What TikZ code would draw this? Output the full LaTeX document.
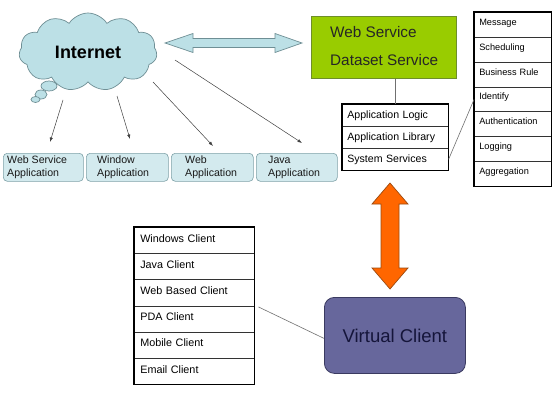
\documentclass[tikz,border=0pt]{standalone}
\usepackage{fontspec}
\setmainfont{Liberation Sans}
\usetikzlibrary{shapes.symbols,arrows.meta,calc}
\definecolor{cloudfill}{HTML}{BCE0E6}
\definecolor{cloudline}{HTML}{6F8F95}
\definecolor{appfill}{HTML}{D3EAEE}
\definecolor{appline}{HTML}{7FA2A8}
\definecolor{greenfill}{HTML}{99CC00}
\definecolor{greenline}{HTML}{6E8E2A}
\definecolor{orangefill}{HTML}{FF6600}
\definecolor{orangeline}{HTML}{9A4A10}
\definecolor{vcfill}{HTML}{67679C}
\definecolor{vcline}{HTML}{3A3A60}
\definecolor{vctext}{HTML}{15153A}
\definecolor{linkgray}{HTML}{707070}
\begin{document}
\begin{tikzpicture}[x=1pt,y=-1pt,
  arr/.style={draw=black!75, line width=0.5pt, -{Latex[length=4.5pt,width=3.2pt]}},
  link/.style={draw=linkgray, line width=0.6pt},
  appbox/.style={draw=appline, fill=appfill, rounded corners=4pt, line width=0.6pt,
     minimum width=80pt, minimum height=28pt, anchor=north west, inner sep=0pt},
  apptext/.style={anchor=west, align=left, inner sep=0pt, font=\fontsize{10.6}{12.6}\selectfont, text=black!90},
  rrow/.style={draw=black!80, line width=0.6pt, anchor=north west, minimum width=77pt,
     inner xsep=5pt, inner ysep=0pt, text height=13pt, text depth=11.86pt, text width=67pt,
     align=left, font=\fontsize{9.2}{10}\selectfont},
  lrow/.style={draw=black!80, line width=0.6pt, anchor=north west, minimum width=106pt,
     inner xsep=5pt, inner ysep=0pt, text height=14.5pt, text depth=7.5pt, text width=96pt,
     align=left, font=\fontsize{10.6}{12}\selectfont},
  crow/.style={draw=black!80, line width=0.6pt, anchor=north west, minimum width=120pt,
     inner xsep=6pt, inner ysep=0pt, text height=15pt, text depth=11.17pt, text width=108pt,
     align=left, font=\fontsize{10.8}{12}\selectfont},
  frame/.style={draw=black, line width=1.2pt}
]
\useasboundingbox[fill=white] (0,0) rectangle (560,420);

% ---- Cloud ----
\node[cloud, cloud puffs=11, cloud puff arc=115, aspect=1.75, draw=cloudline, fill=cloudfill,
      line width=0.7pt, minimum width=138pt, minimum height=78pt, inner sep=0pt,
      font=\fontsize{18}{20}\selectfont\bfseries] (cloud) at (88,52) {Internet};
\draw[draw=cloudline, fill=cloudfill, line width=0.7pt] (49,86) ellipse [x radius=8pt, y radius=5pt];
\draw[draw=cloudline, fill=cloudfill, line width=0.7pt] (41,94.5) ellipse [x radius=6pt, y radius=4.5pt];
\draw[draw=cloudline, fill=cloudfill, line width=0.7pt] (35.5,99.5) ellipse [x radius=4.5pt, y radius=3pt];

% ---- Blue double arrow ----
\coordinate (bl) at (165,43);
\coordinate (br) at (302,43);
\draw[draw=cloudline, fill=cloudfill, line width=0.7pt]
  (bl) -- (193,33.5) -- (193,38.5) -- (275,38.5) -- (275,33.5) -- (br)
  -- (275,52.5) -- (275,47.5) -- (193,47.5) -- (193,52.5) -- cycle;

% ---- Application boxes ----
\node[appbox, minimum width=80pt] (a1) at (3,153) {};
\node[appbox, minimum width=82pt] (a2) at (86,153) {};
\node[appbox, minimum width=82pt] (a3) at (171,153) {};
\node[appbox, minimum width=81pt] (a4) at (256,153) {};
\node[apptext] (t1) at ($(a1.west)+(4,0)$) {Web Service\\Application};
\node[apptext] (t2) at ($(a2.west)+(11,0)$) {Window\\Application};
\node[apptext] (t3) at ($(a3.west)+(14,0)$) {Web\\Application};
\node[apptext] (t4) at ($(a4.west)+(12,0)$) {Java\\Application};

% ---- Arrows from cloud ----
\coordinate (s1) at (63,100);  \coordinate (e1) at (50,142);
\coordinate (s2) at (117,96);  \coordinate (e2) at (130,139);
\coordinate (s3) at (153,82);  \coordinate (e3) at (213,146);
\coordinate (s4) at (175,60);  \coordinate (e4) at (302,143);
\draw[arr] (s1) -- (e1);
\draw[arr] (s2) -- (e2);
\draw[arr] (s3) -- (e3);
\draw[arr] (s4) -- (e4);

% ---- Green service box ----
\node[draw=greenline, fill=greenfill, line width=0.7pt, anchor=north west,
      minimum width=145pt, minimum height=62pt, inner sep=0pt] (ws) at (311,16) {};
\node[anchor=base west, inner sep=0pt, font=\fontsize{15.3}{17}\selectfont, text=black!85] (wst1) at (330,38) {Web Service};
\node[anchor=base west, inner sep=0pt, font=\fontsize{15.3}{17}\selectfont, text=black!85] (wst2) at (330,66) {Dataset Service};

% ---- Application logic stack ----
\node[lrow] (l1) at (342,104) {Application Logic};
\node[lrow] (l2) at (342,126) {Application Library};
\node[lrow] (l3) at (342,148) {System Services};
\draw[frame] (l1.north west) rectangle (l3.south east);
\draw[link] (ws.south -| l1.north) -- (l1.north);

% ---- Right stack ----
\node[rrow] (r1) at (474,12) {Message};
\node[rrow] (r2) at (474,36.86) {Scheduling};
\node[rrow] (r3) at (474,61.71) {Business Rule};
\node[rrow] (r4) at (474,86.57) {Identify};
\node[rrow] (r5) at (474,111.43) {Authentication};
\node[rrow] (r6) at (474,136.29) {Logging};
\node[rrow] (r7) at (474,161.14) {Aggregation};
\draw[frame] (r1.north west) rectangle (r7.south east);
\draw[link] (l3.east) -- ($(r4.north west)+(0,13)$);

% ---- Orange double arrow ----
\coordinate (ot) at (390,183);
\coordinate (ob) at (390,289);
\draw[draw=orangeline, fill=orangefill, line width=0.7pt]
  (ot) -- (408,204) -- (399,204) -- (399,268) -- (408,268) -- (ob)
  -- (372,268) -- (381,268) -- (381,204) -- (372,204) -- cycle;

% ---- Virtual client ----
\node[draw=vcline, fill=vcfill, line width=0.8pt, rounded corners=10pt, anchor=north west,
      minimum width=141pt, minimum height=76pt, inner sep=0pt, text=vctext,
      font=\fontsize{18.5}{20}\selectfont] (vc) at (324,297) {Virtual Client};

% ---- Clients stack ----
\node[crow] (c1) at (134,227) {Windows Client};
\node[crow] (c2) at (134,253.17) {Java Client};
\node[crow] (c3) at (134,279.33) {Web Based Client};
\node[crow] (c4) at (134,305.5) {PDA Client};
\node[crow] (c5) at (134,331.67) {Mobile Client};
\node[crow] (c6) at (134,357.83) {Email Client};
\draw[frame] (c1.north west) rectangle (c6.south east);
\coordinate (cl) at ($(c4.north east)+(4,1.5)$);
\draw[link] (cl) -- ($(vc.west)+(0,3)$);
\end{tikzpicture}
\end{document}
